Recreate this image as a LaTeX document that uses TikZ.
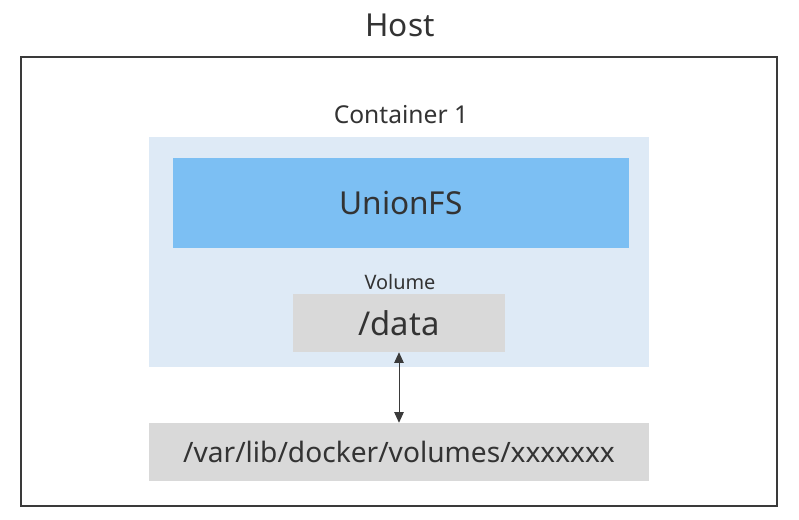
\documentclass[tikz,border=0pt]{standalone}
\usepackage{fontspec}
\setmainfont{Noto Sans}
\usepackage{tikz}
\usetikzlibrary{arrows.meta}

\definecolor{txtgray}{HTML}{333333}
\definecolor{linegray}{HTML}{3A3A3A}
\definecolor{contblue}{HTML}{DEEAF6}
\definecolor{ufsblue}{HTML}{7CBFF3}
\definecolor{volgray}{HTML}{D9D9D9}

\begin{document}
\begin{tikzpicture}[x=0.03cm, y=-0.03cm,
    every node/.style={text=txtgray},
    box/.style={rectangle, inner sep=0pt},
    big/.style={font=\fontsize{27}{32}\selectfont},
    mid/.style={font=\fontsize{21}{25}\selectfont},
    small/.style={font=\fontsize{17}{20}\selectfont}]
    \path[use as bounding box] (0, 0) rectangle (799, 519);

    % Host
    \node[box, draw=linegray, line width=1.2pt, minimum width=22.68cm, minimum height=13.47cm] (host) at (399, 281.5) {};
    \node[big] (hostlbl) at (400, 25) {Host};

    % Container 1
    \node[box, fill=contblue, minimum width=15cm, minimum height=6.9cm] (cont) at (399, 252) {};
    \node[mid] (contlbl) at (401, 115) {Container 1};

    % UnionFS
    \node[box, fill=ufsblue, big, minimum width=13.68cm, minimum height=2.7cm] (ufs) at (401, 203) {UnionFS};

    % Volume
    \node[small] (vollbl) at (400, 282) {Volume};
    \node[box, fill=volgray, font=\fontsize{28}{33}\selectfont, minimum width=6.36cm, minimum height=1.74cm] (data) at (399, 323) {/data};

    % host directory
    \node[box, fill=volgray, font=\fontsize{24}{29}\selectfont, minimum width=15cm, minimum height=1.74cm] (hostdir) at (399, 452) {/var/lib/docker/volumes/xxxxxxx};

    % mount
    \draw[{Triangle[length=9pt, width=8pt]}-{Triangle[length=9pt, width=8pt]}, linegray, line width=0.8pt] (data.south) -- (hostdir.north);
\end{tikzpicture}
\end{document}
